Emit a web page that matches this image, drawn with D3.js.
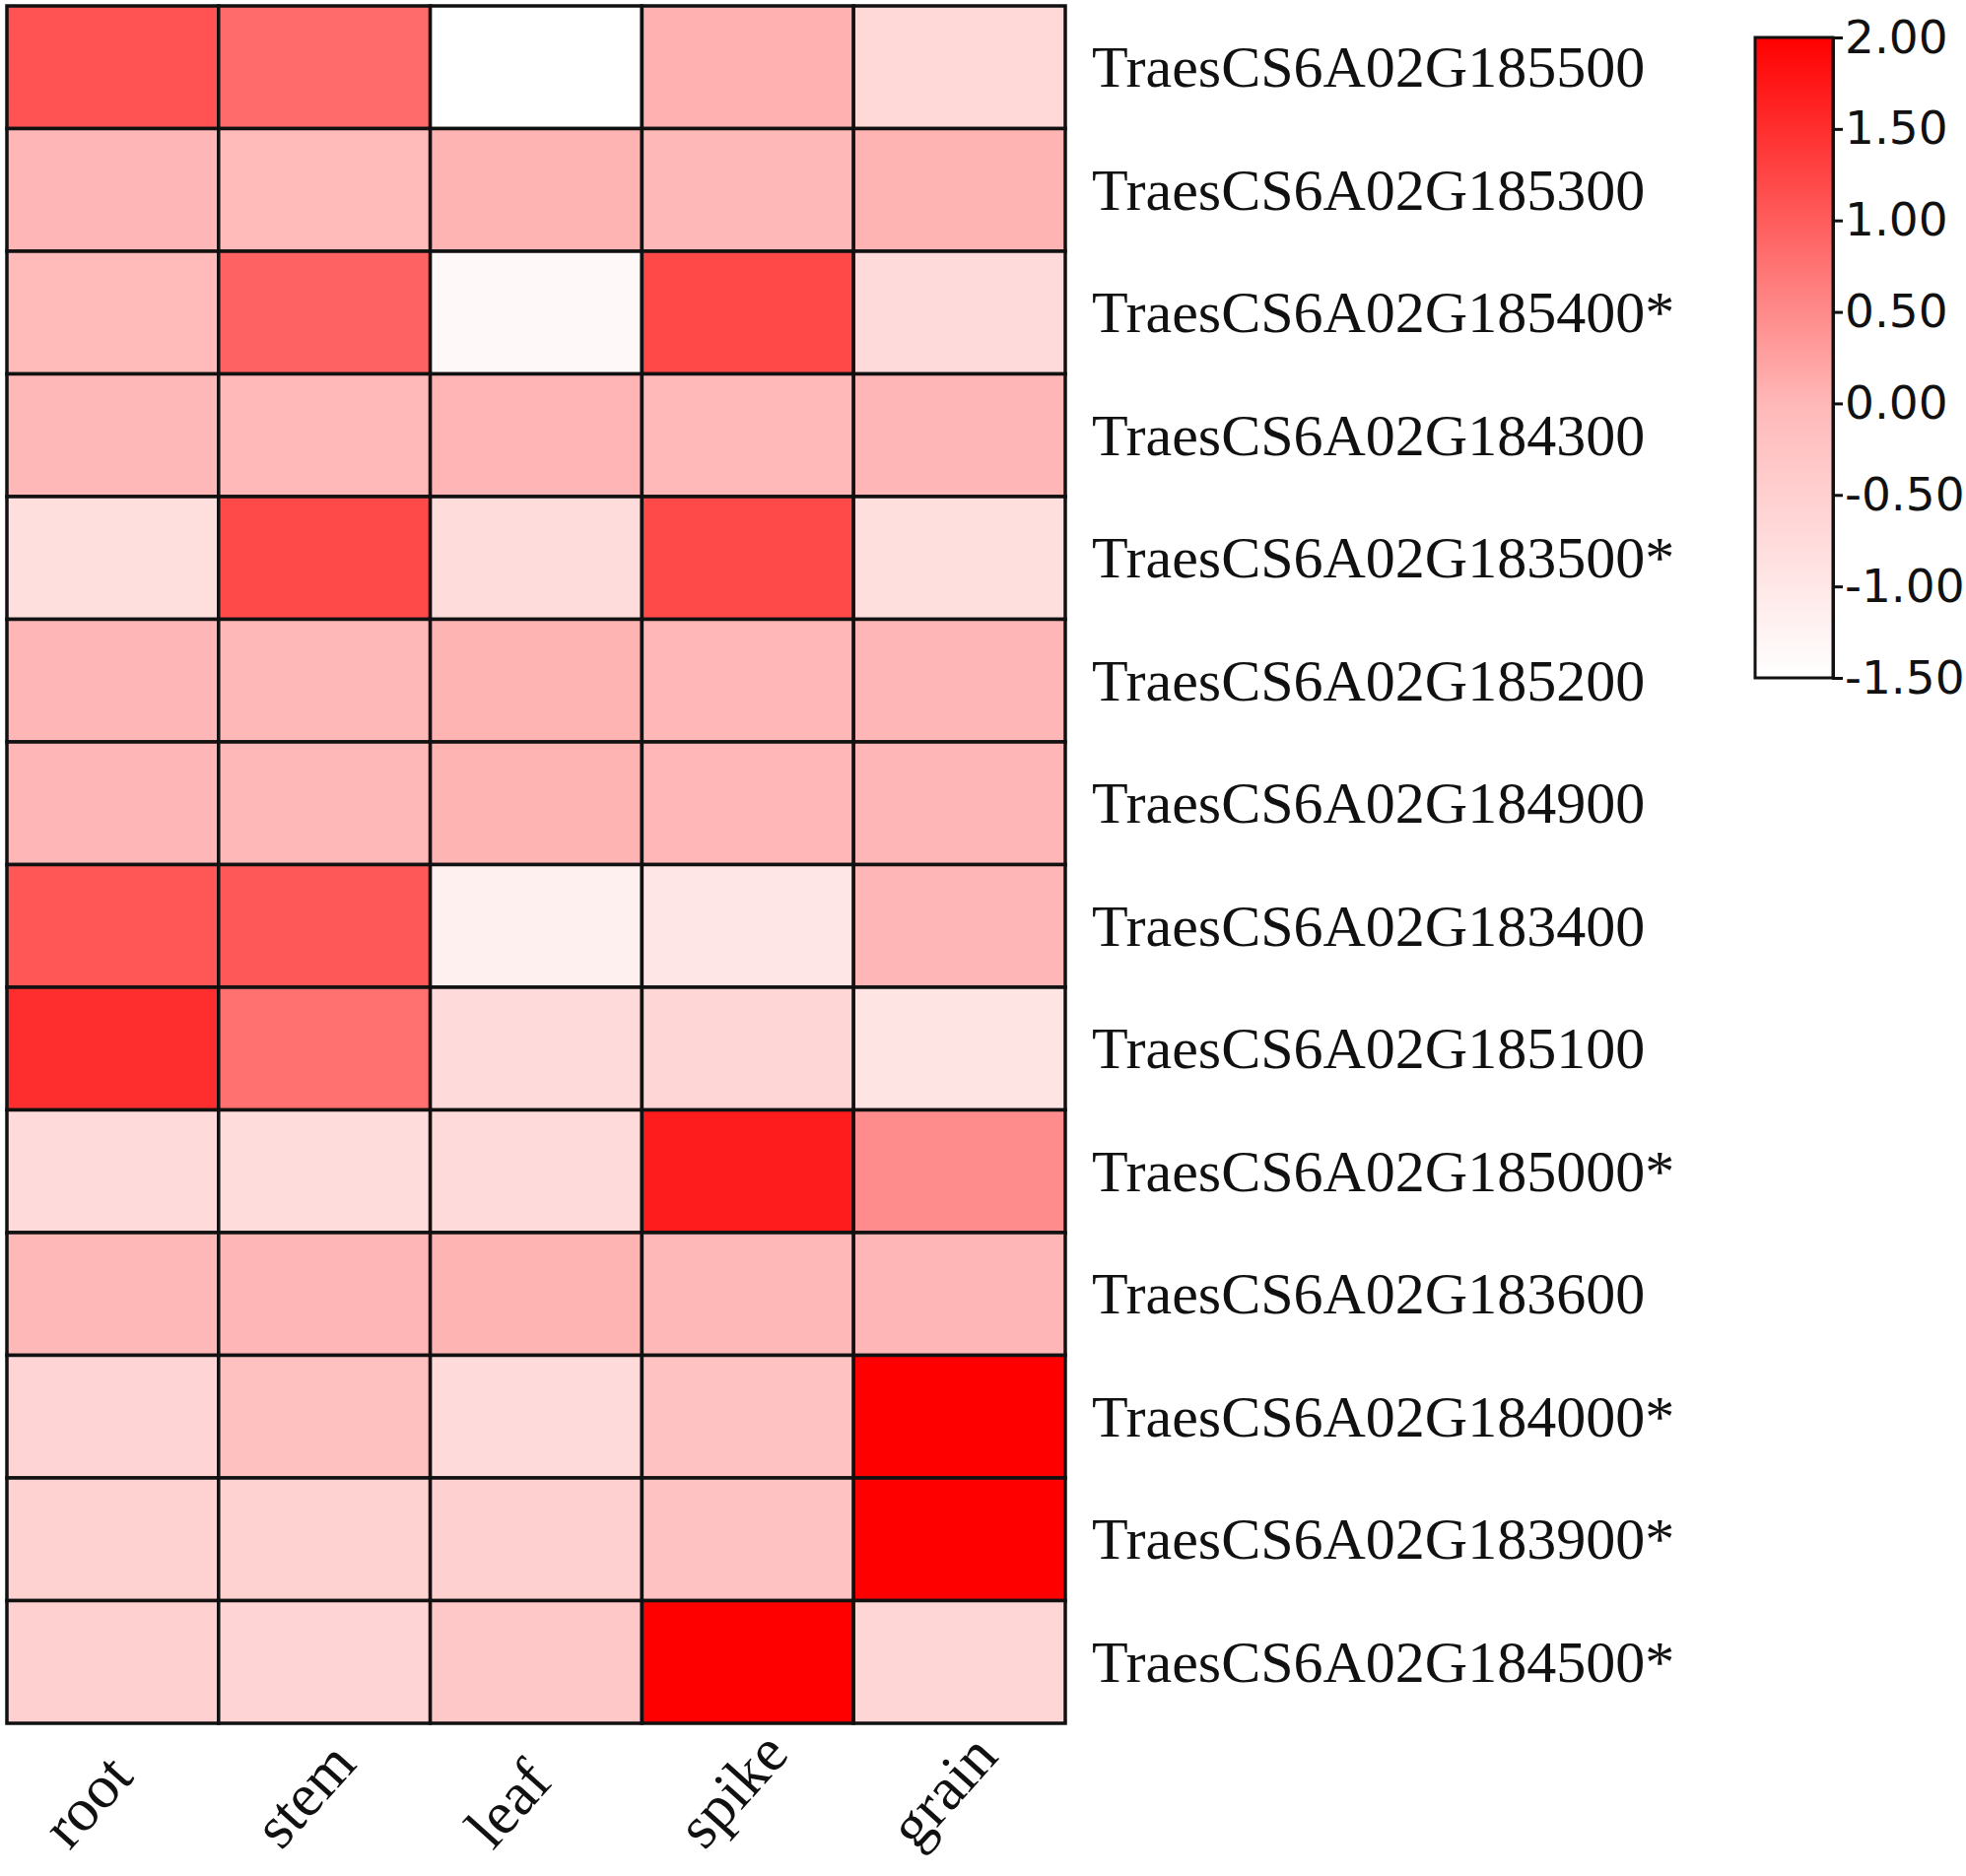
<!DOCTYPE html>
<html>
<head>
<meta charset="utf-8">
<script src="https://cdn.jsdelivr.net/npm/d3@7"></script>
<style>
  html, body { margin: 0; padding: 0; background: #fff; }
  svg { display: block; }
</style>
</head>
<body>
<svg id="chart" width="1995" height="1904"></svg>
<script>
// tissues (columns) and genes (rows), top to bottom
const tissues = ['root', 'stem', 'leaf', 'spike', 'grain'];
const genes = [
  'TraesCS6A02G185500', 'TraesCS6A02G185300', 'TraesCS6A02G185400*',
  'TraesCS6A02G184300', 'TraesCS6A02G183500*', 'TraesCS6A02G185200',
  'TraesCS6A02G184900', 'TraesCS6A02G183400', 'TraesCS6A02G185100',
  'TraesCS6A02G185000*', 'TraesCS6A02G183600', 'TraesCS6A02G184000*',
  'TraesCS6A02G183900*', 'TraesCS6A02G184500*'
];
// expression values, one row per gene: root, stem, leaf, spike, grain
const values = [
  [ 1.11,  0.84, -1.50,  0.09, -0.68],
  [ 0.02, -0.04,  0.04,  0.00,  0.04],
  [-0.04,  0.93, -1.35,  1.22, -0.72],
  [ 0.00, -0.03,  0.03, -0.02,  0.02],
  [-0.80,  1.20, -0.76,  1.20, -0.80],
  [ 0.02,  0.00,  0.04,  0.01,  0.02],
  [ 0.02,  0.00,  0.04,  0.01,  0.02],
  [ 1.07,  1.04, -1.18, -0.97,  0.02],
  [ 1.50,  0.78, -0.72, -0.63, -0.93],
  [-0.72, -0.76, -0.72,  1.70,  0.48],
  [ 0.00,  0.02,  0.04,  0.00,  0.02],
  [-0.59, -0.17, -0.72, -0.21,  2.00],
  [-0.55, -0.55, -0.51, -0.21,  2.00],
  [-0.51, -0.59, -0.34,  2.00, -0.63]
];
const legendTicks = [2.00, 1.50, 1.00, 0.50, 0.00, -0.50, -1.00, -1.50];
const colorStops = [-1.5, 0, 2];
const colorRange = ['#ffffff', '#ffb8b8', '#ff0000'];

const svg = d3.select('#chart');

const gridLeft = 7, gridTop = 6, gridRight = 1081, gridBottom = 1749;

const x = d3.scaleBand().domain(tissues).range([gridLeft, gridRight]);
const y = d3.scaleBand().domain(genes).range([gridTop, gridBottom]);
const color = d3.scaleLinear().domain(colorStops).range(colorRange).clamp(true);

const cells = [];
values.forEach((row, i) => {
  row.forEach((v, j) => cells.push({ gene: genes[i], tissue: tissues[j], value: v }));
});

svg.append('g')
  .selectAll('rect')
  .data(cells)
  .join('rect')
    .attr('x', d => x(d.tissue))
    .attr('y', d => y(d.gene))
    .attr('width', x.bandwidth())
    .attr('height', y.bandwidth())
    .attr('fill', d => color(d.value))
    .attr('stroke', '#111')
    .attr('stroke-width', 3.5);

// gene labels on the right
svg.append('g')
  .selectAll('text')
  .data(genes)
  .join('text')
    .attr('x', gridRight + 27)
    .attr('y', d => y(d) + y.bandwidth() / 2 + 20)
    .attr('font-family', '"Liberation Serif", "Times New Roman", serif')
    .attr('font-size', 60)
    .attr('fill', '#111')
    .text(d => d);

// tissue labels, rotated
svg.append('g')
  .selectAll('text')
  .data(tissues)
  .join('text')
    .attr('transform', d => `translate(${x(d) + x.bandwidth() / 2 - 44},${gridBottom + 130}) rotate(-48)`)
    .attr('text-anchor', 'start')
    .attr('font-family', '"Liberation Serif", "Times New Roman", serif')
    .attr('font-size', 62)
    .attr('fill', '#111')
    .text(d => d);

// colour legend
const legX = 1781, legW = 79, legTop = 38, legBottom = 688;
const legScale = d3.scaleLinear().domain([-1.5, 2]).range([legBottom, legTop]);

const grad = svg.append('defs').append('linearGradient')
  .attr('id', 'legGrad')
  .attr('x1', 0).attr('y1', 1).attr('x2', 0).attr('y2', 0);
grad.selectAll('stop')
  .data(colorStops)
  .join('stop')
    .attr('offset', d => (d - colorStops[0]) / (colorStops[2] - colorStops[0]))
    .attr('stop-color', d => color(d));

svg.append('rect')
  .attr('x', legX)
  .attr('y', legTop)
  .attr('width', legW)
  .attr('height', legBottom - legTop)
  .attr('fill', 'url(#legGrad)')
  .attr('stroke', '#111')
  .attr('stroke-width', 3);

const legAxis = svg.append('g')
  .attr('transform', `translate(${legX + legW},0)`)
  .call(d3.axisRight(legScale)
    .tickValues(legendTicks)
    .tickSize(10)
    .tickPadding(2)
    .tickFormat(d => d.toFixed(2)));
legAxis.select('.domain').attr('stroke', '#111').attr('stroke-width', 3);
legAxis.selectAll('.tick line').attr('stroke', '#111').attr('stroke-width', 3);
legAxis.selectAll('.tick text')
  .attr('font-family', '"DejaVu Sans", Verdana, sans-serif')
  .attr('font-size', 47)
  .attr('fill', '#111');
</script>
</body>
</html>
